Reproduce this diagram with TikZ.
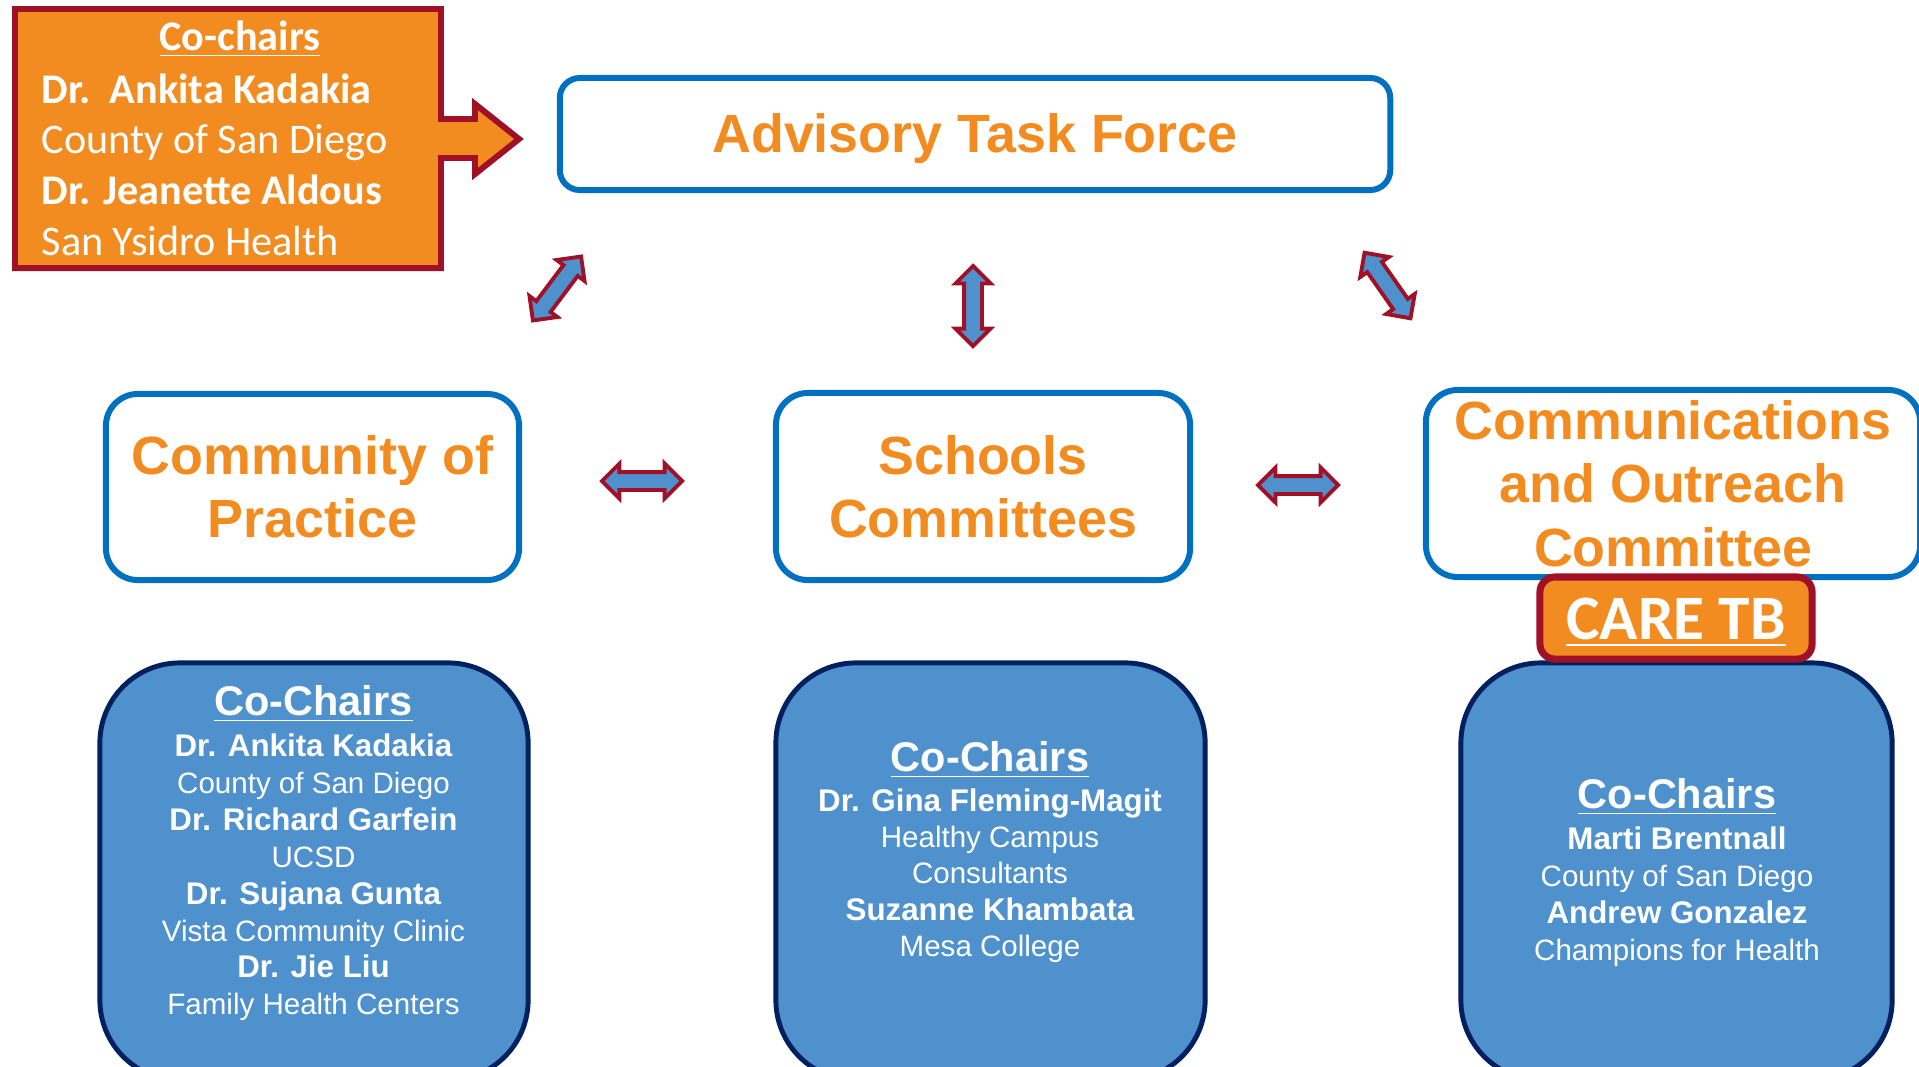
\documentclass[tikz,border=0pt]{standalone}
\usepackage{fontspec}
\setmainfont{Liberation Sans}
\newfontfamily\calib{Carlito}
\usetikzlibrary{shapes.arrows,positioning}

\definecolor{tforange}{RGB}{242,140,33}
\definecolor{tfred}{RGB}{160,16,38}
\definecolor{tfblue}{RGB}{0,112,192}
\definecolor{chairblue}{RGB}{79,145,205}
\definecolor{chairnavy}{RGB}{0,32,96}

\tikzset{
  titlebox/.style={draw=tfblue, line width=1.7pt, rounded corners=0.32cm, fill=white, text=tforange,
    inner sep=0pt, align=center, font=\fontsize{15.3}{18}\selectfont\bfseries},
  chairbox/.style={draw=chairnavy, line width=1.4pt, rounded corners=0.8cm, fill=chairblue},
  linkarrow/.style={double arrow, draw=tfred, fill=chairblue, line width=1.1pt, minimum height=0.8cm,
    inner sep=0.07cm, double arrow head extend=0.085cm},
  chairhead/.style={text=white, inner sep=0pt, font=\fontsize{11.8}{14}\selectfont\bfseries},
  chairlist/.style={text=white, inner sep=0pt, align=center, font=\fontsize{8.4}{10.5}\selectfont},
}
\newcommand{\chairname}[1]{{\fontsize{8.9}{10.5}\selectfont\bfseries #1}}

\begin{document}
\begin{tikzpicture}[x=0.01cm,y=-0.01cm]
    \path[use as bounding box, fill=white] (0,0) rectangle (1919,1066);
    \clip (0,0) rectangle (1919,1066);
    %Task force co-chairs
    \draw[draw=tfred, fill=tforange, line width=1.7pt] (15,9) -- (441,9) -- (441,119) -- (475,119)
        -- (475,104) -- (519,139) -- (475,174) -- (475,158) -- (441,158) -- (441,268) -- (15,268) -- cycle;
    \node[anchor=base, text=white, inner sep=0pt, font=\calib\fontsize{12}{14.4}\selectfont\bfseries] (tfhead) at (240,50) {\underline{Co-chairs}};
    \node[anchor=north west, align=left, text=white, inner sep=0pt, font=\calib\fontsize{12}{14.4}\selectfont] (tflist) at (41,73)
        {\textbf{Dr.\ \ Ankita Kadakia}\\County of San Diego\\\textbf{Dr. Jeanette Aldous}\\San Ysidro Health};
    %Advisory task force
    \node[titlebox, minimum width=8.3cm, minimum height=1.12cm, rounded corners=0.2cm, text height=13.8pt, text depth=3.2pt] (atf) at (975,134) {Advisory Task Force};
    %Links
    \node[linkarrow, rotate=53] (a1) at (557,288.5) {};
    \node[linkarrow, rotate=90] (a2) at (973,306) {};
    \node[linkarrow, rotate=-55] (a3) at (1387.5,285.5) {};
    \node[linkarrow] (a4) at (642,481) {};
    \node[linkarrow] (a5) at (1298,485) {};
    %Committees
    \node[titlebox, minimum width=4.13cm, minimum height=1.86cm] (cop) at (312.5,487) {Community of\\Practice};
    \node[titlebox, minimum width=4.14cm, minimum height=1.87cm] (sch) at (983,486.5) {Schools\\Committees};
    \node[titlebox, minimum width=4.94cm, minimum height=1.87cm] (com) at (1673,483.5) {Communications\\and Outreach\\Committee};
    %Committee co-chairs
    \node[chairbox, minimum width=4.28cm, minimum height=4.17cm] (lchair) at (314,871.5) {};
    \node[chairbox, minimum width=4.29cm, minimum height=4.17cm] (mchair) at (990.5,871.5) {};
    \node[chairbox, minimum width=4.31cm, minimum height=4.17cm] (rchair) at (1676.5,871.5) {};
    \node[chairhead, anchor=base] (lhead) at (313.5,715) {\underline{Co-Chairs}};
    \node[chairlist, below=0.18cm of lhead.base] (llist)
        {\chairname{Dr. Ankita Kadakia}\\County of San Diego\\\chairname{Dr. Richard Garfein}\\UCSD\\
         \chairname{Dr. Sujana Gunta}\\Vista Community Clinic\\\chairname{Dr. Jie Liu}\\Family Health Centers};
    \node[chairhead, anchor=base] (mhead) at (990,771) {\underline{Co-Chairs}};
    \node[chairlist, below=0.17cm of mhead.base, font=\fontsize{8.4}{10.3}\selectfont] (mlist)
        {\chairname{Dr. Gina Fleming-Magit}\\Healthy Campus\\Consultants\\\chairname{Suzanne Khambata}\\Mesa College};
    \node[chairhead, anchor=base] (rhead) at (1677,808) {\underline{Co-Chairs}};
    \node[chairlist, below=0.18cm of rhead.base] (rlist)
        {\chairname{Marti Brentnall}\\County of San Diego\\\chairname{Andrew Gonzalez}\\Champions for Health};
    %CARE TB
    \node[draw=tfred, fill=tforange, line width=2pt, rounded corners=0.15cm, minimum width=2.72cm, minimum height=0.82cm,
        text height=14.4pt, text=white, font=\calib\fontsize{18}{20}\selectfont\bfseries] (care) at (1676,618) {\underline{CARE TB}};
\end{tikzpicture}
\end{document}
